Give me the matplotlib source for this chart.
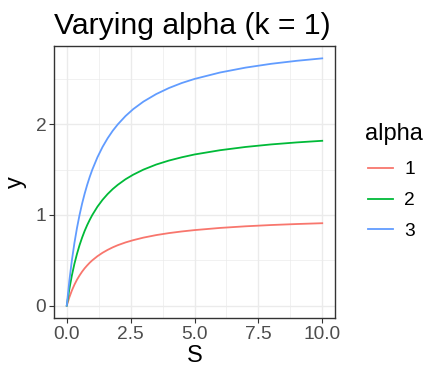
import matplotlib
matplotlib.use("Agg")
import matplotlib.pyplot as plt
from matplotlib.lines import Line2D

# Values
S = [0, 0.1, 0.2, 0.3, 0.4, 0.5, 0.6, 0.7, 0.8, 0.9, 1.0, 1.2, 1.4, 1.6, 1.8,
     2.0, 2.3, 2.6, 3.0, 3.5, 4.0, 4.5, 5.0, 6.0, 7.0, 8.0, 9.0, 10.0]
y_alpha1 = [0, 0.091, 0.167, 0.231, 0.286, 0.333, 0.375, 0.412, 0.444, 0.474,
            0.500, 0.545, 0.583, 0.615, 0.643, 0.667, 0.697, 0.722, 0.750,
            0.778, 0.800, 0.818, 0.833, 0.857, 0.875, 0.889, 0.900, 0.909]
y_alpha2 = [0, 0.182, 0.333, 0.462, 0.571, 0.667, 0.750, 0.824, 0.889, 0.947,
            1.000, 1.091, 1.167, 1.231, 1.286, 1.333, 1.394, 1.444, 1.500,
            1.556, 1.600, 1.636, 1.667, 1.714, 1.750, 1.778, 1.800, 1.818]
y_alpha3 = [0, 0.273, 0.500, 0.692, 0.857, 1.000, 1.125, 1.235, 1.333, 1.421,
            1.500, 1.636, 1.750, 1.846, 1.929, 2.000, 2.091, 2.167, 2.250,
            2.333, 2.400, 2.455, 2.500, 2.571, 2.625, 2.667, 2.700, 2.727]
alpha_labels = ["1", "2", "3"]
colors = ["#F8766D", "#00BA38", "#619CFF"]
x_ticks = [0.0, 2.5, 5.0, 7.5, 10.0]
x_tick_labels = ["0.0", "2.5", "5.0", "7.5", "10.0"]
y_ticks = [0, 1, 2]
y_tick_labels = ["0", "1", "2"]

plt.rcParams['font.family'] = ['Liberation Sans', 'DejaVu Sans']

W, H = 429, 370
fig = plt.figure(figsize=(W / 100, H / 100), dpi=100)
left, right, top, bottom = 54, 335, 46, 318
ax = fig.add_axes([left / W, 1 - bottom / H, (right - left) / W, (bottom - top) / H])

series = [y_alpha1, y_alpha2, y_alpha3]
for ys, c, lab in zip(series, colors, alpha_labels):
    ax.plot(S, ys, color=c, lw=1.3, label=lab, solid_joinstyle='round', zorder=3)

ymax = max(y_alpha3)
ax.set_xlim(-0.5, 10.5)
ax.set_ylim(-0.05 * ymax, ymax * 1.05)

ax.set_xticks(x_ticks)
ax.set_xticklabels(x_tick_labels)
ax.set_yticks(y_ticks)
ax.set_yticklabels(y_tick_labels)
ax.set_xticks([1.25, 3.75, 6.25, 8.75], minor=True)
ax.set_yticks([0.5, 1.5, 2.5], minor=True)

ax.grid(which='major', color='#EBEBEB', lw=1.0, zorder=0)
ax.grid(which='minor', color='#EBEBEB', lw=0.5, zorder=0)
ax.set_axisbelow(True)
for sp in ax.spines.values():
    sp.set_color('#333333')
    sp.set_linewidth(1.0)

ax.tick_params(which='major', length=3.5, width=0.8, color='#333333',
               labelsize=13.8, labelcolor='#4D4D4D', pad=2)
ax.tick_params(which='minor', length=0)

ax.set_xlabel("S", fontsize=17, labelpad=2)
ax.set_ylabel("y", fontsize=17, labelpad=6)

fig.text(left / W, 1 - 34 / H, "Varying alpha (k = 1)", fontsize=21.7,
         ha='left', va='baseline')

# Manual legend (figure pixel coordinates)
fig.text(365 / W, 1 - 140 / H, "alpha", fontsize=17, ha='left', va='baseline')
key_y = [168, 199, 229]
for yy, c, lab in zip(key_y, colors, alpha_labels):
    fig.add_artist(Line2D([368 / W, 393 / W], [1 - yy / H, 1 - yy / H],
                          color=c, lw=1.3, transform=fig.transFigure))
    fig.text(404 / W, 1 - yy / H, lab, fontsize=13.8, ha='left', va='center_baseline')

fig.savefig("out.png", dpi=100)
